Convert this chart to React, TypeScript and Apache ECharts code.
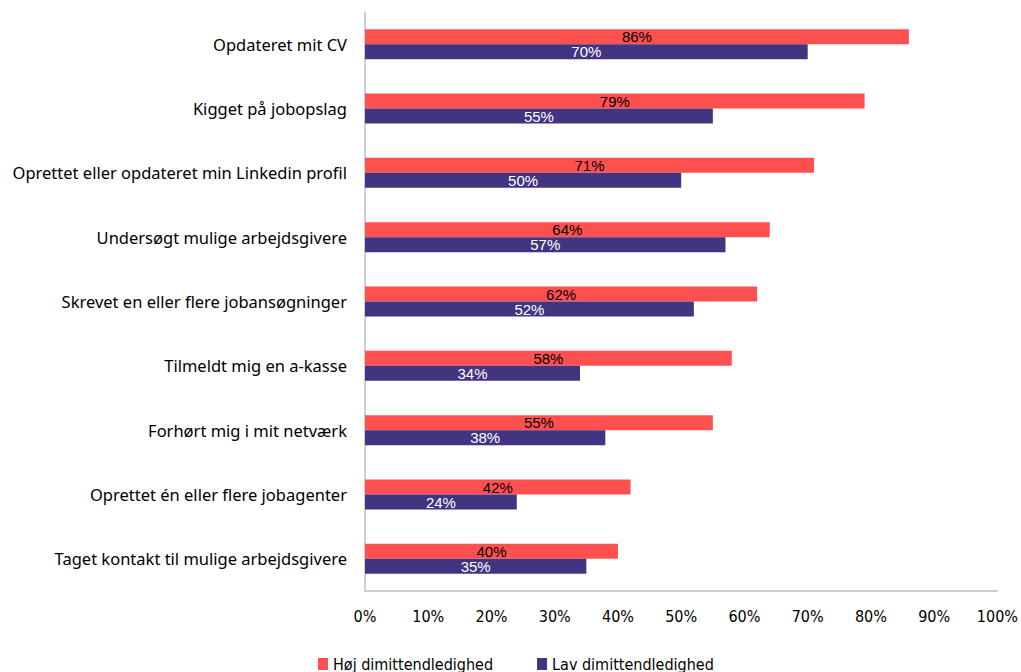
import React, { useEffect, useRef } from "react";
import * as echarts from "echarts";

const categories = [
  "Opdateret mit CV",
  "Kigget på jobopslag",
  "Oprettet eller opdateret min Linkedin profil",
  "Undersøgt mulige arbejdsgivere",
  "Skrevet en eller flere jobansøgninger",
  "Tilmeldt mig en a-kasse",
  "Forhørt mig i mit netværk",
  "Oprettet én eller flere jobagenter",
  "Taget kontakt til mulige arbejdsgivere",
];
const hoej = [86, 79, 71, 64, 62, 58, 55, 42, 40];
const lav = [70, 55, 50, 57, 52, 34, 38, 24, 35];
const seriesNames = ["Høj dimittendledighed", "Lav dimittendledighed"];

export default function App() {
  const ref = useRef<HTMLDivElement>(null);
  useEffect(() => {
    const chart = echarts.init(ref.current!, null, { renderer: "svg" });
    const narrow = "'Liberation Sans Narrow', 'DejaVu Sans Condensed', 'Noto Sans', sans-serif";
    chart.setOption({
      animation: false,
      grid: { left: 365, right: 22, top: 12, bottom: 81, containLabel: false },
      legend: {
        data: seriesNames,
        left: 313,
        top: 650,
        itemWidth: 10,
        itemHeight: 12,
        itemGap: 44,
        icon: "rect",
        textStyle: { fontFamily: narrow, fontSize: 16, color: "#000", lineHeight: 18 },
      },
      xAxis: {
        type: "value",
        min: 0,
        max: 100,
        interval: 10,
        axisLine: { show: true, lineStyle: { color: "#BFBFBF", width: 1.5 } },
        axisTick: { show: false },
        splitLine: { show: false },
        axisLabel: {
          formatter: "{value}%",
          margin: 17,
          fontFamily: narrow,
          fontSize: 16,
          color: "#000",
        },
      },
      yAxis: {
        type: "category",
        inverse: true,
        data: categories,
        axisLine: { show: true, lineStyle: { color: "#BFBFBF", width: 1.5 } },
        axisTick: { show: false },
        axisLabel: {
          margin: 18,
          fontFamily: "'Noto Sans', sans-serif",
          fontSize: 16.5,
          color: "#000",
        },
      },
      series: [
        {
          name: seriesNames[0],
          type: "bar",
          data: hoej,
          barWidth: 15,
          barGap: "0%",
          itemStyle: { color: "#FF5050" },
          label: {
            show: true,
            position: "inside",
            formatter: "{c}%",
            color: "#000",
            fontFamily: "'Liberation Sans', Arial, sans-serif",
            fontSize: 15,
          },
        },
        {
          name: seriesNames[1],
          type: "bar",
          data: lav,
          barWidth: 15,
          itemStyle: { color: "#433481" },
          label: {
            show: true,
            position: "inside",
            formatter: "{c}%",
            color: "#fff",
            fontFamily: "'Liberation Sans', Arial, sans-serif",
            fontSize: 15,
          },
        },
      ],
    });
    return () => chart.dispose();
  }, []);
  return <div ref={ref} style={{ width: 1021, height: 672, position: "absolute", left: 0, top: 0 }} />;
}
